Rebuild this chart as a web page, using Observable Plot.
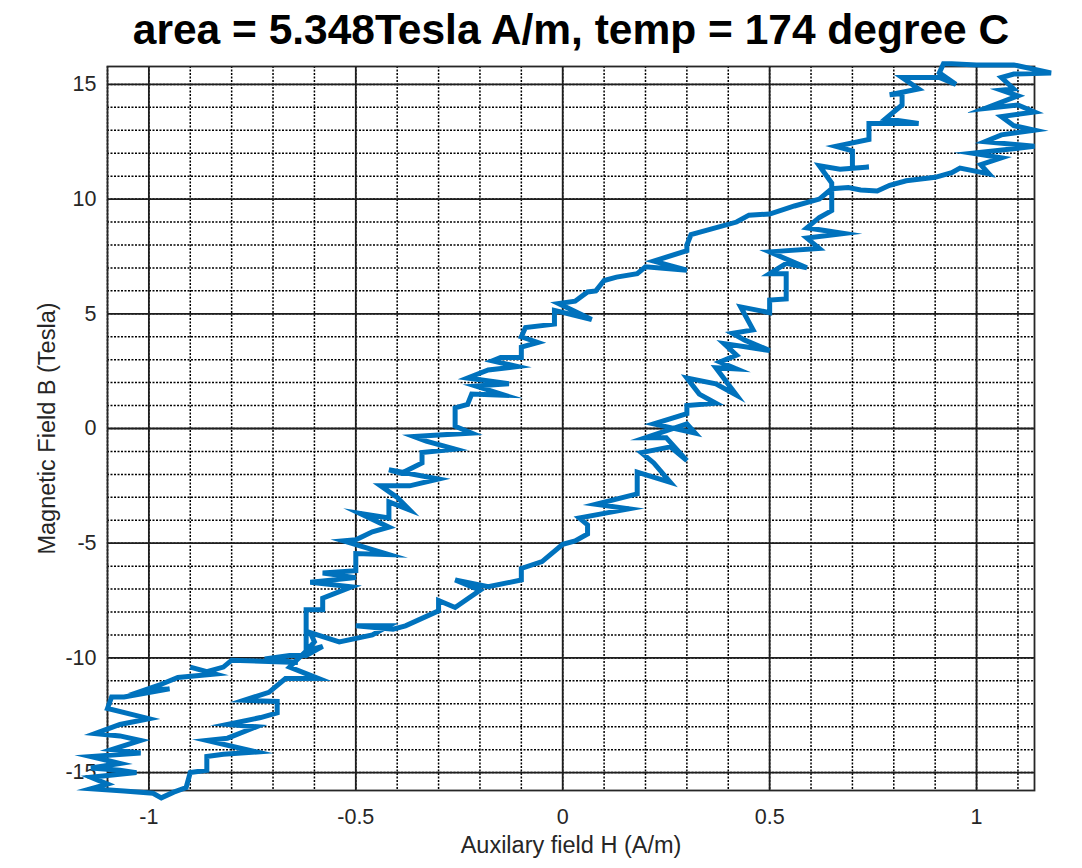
<!DOCTYPE html>
<html><head><meta charset="utf-8">
<script src="https://cdn.jsdelivr.net/npm/d3@7"></script>
<script src="https://cdn.jsdelivr.net/npm/@observablehq/plot@0.6"></script>
<style>
body{margin:0;background:#fff;width:1082px;height:868px;overflow:hidden;font-family:"Liberation Sans",Arial,Helvetica,sans-serif}
#title{box-sizing:border-box;height:58px;padding:2px 0 0 60px;line-height:56px;font-size:42.5px;font-weight:bold;text-align:center;color:#000;white-space:nowrap}
</style></head><body>
<div id="title">area = 5.348Tesla A/m, temp = 174 degree C</div>
<div id="chart"></div>
<script>
// Auxiliary field H (A/m) and magnetic field B (Tesla), traced in drawing order
const H = [
 0.94,1.00,1.09,1.18,1.09,1.06,1.09,1.06,1.10,1.02,1.10,1.14,1.06,1.09,1.14,1.06,1.02,1.14,0.99,1.06,1.01,1.03,0.96,0.94,0.90,0.83,0.79,0.76,0.72,0.69,0.65,
 0.62,0.56,0.50,0.45,0.42,0.36,0.31,0.30,0.30,0.22,0.30,0.20,0.18,0.13,0.10,0.08,0.06,0.03,-0.01,0.07,-0.02,-0.02,-0.09,-0.10,-0.06,-0.10,-0.10,-0.15,-0.17,-0.11,-0.18,-0.23,-0.13,-0.21,-0.14,-0.22,-0.23,-0.26,-0.26,-0.22,-0.32,-0.36,-0.33,-0.26,-0.34,-0.34,-0.39,-0.42,-0.30,-0.37,-0.44,-0.40,-0.37,-0.42,-0.42,-0.49,-0.42,-0.46,-0.50,-0.53,-0.42,-0.50,-0.50,-0.58,-0.50,-0.61,-0.51,-0.58,-0.58,-0.62,-0.62,-0.62,-0.58,-0.62,
 -0.66,-0.72,-0.64,-0.80,-0.82,-0.86,-0.90,-0.84,-0.93,-0.97,-1.01,-0.95,-1.06,-1.09,-1.10,-1.00,-1.07,-1.13,-1.07,-1.02,-1.09,-1.02,-1.14,-1.07,-1.14,-1.07,-1.03,-1.14,-1.10,-1.14,-1.06,-0.99,-0.97,-0.94,-0.91,-0.90,-0.86,-0.86,-0.82,-0.74,-0.86,-0.81,-0.74,-0.81,-0.73,-0.69,-0.69,-0.77,-0.71,-0.67,-0.59,-0.66,-0.62,-0.60,
 -0.61,-0.54,-0.46,-0.42,-0.50,-0.41,-0.38,-0.30,-0.30,-0.26,-0.20,-0.26,-0.18,-0.10,-0.10,-0.05,0.00,0.03,0.06,0.06,0.04,0.10,0.16,0.08,0.18,0.18,0.26,0.22,0.19,0.26,0.30,0.25,0.20,0.30,0.32,0.22,0.30,0.30,0.37,0.33,0.30,0.37,0.42,0.37,0.42,0.38,0.42,0.39,0.50,0.44,0.41,0.46,0.43,0.50,0.50,0.54,0.54,0.54,0.50,0.54,0.59,0.50,0.62,0.59,0.68,0.59,0.62,0.65,0.65,
 0.65,0.62,0.67,0.74,0.70,0.70,0.66,0.74,0.74,0.86,0.78,0.82,0.82,0.79,0.86,0.82,0.91,0.95,0.91,0.92,0.94
];
const B = [
 15.9,15.85,15.85,15.5,15.45,15.3,14.8,14.75,14.5,13.95,14.1,13.8,13.6,13.2,13.0,12.8,12.5,12.3,12.0,11.8,11.5,11.1,11.35,11.15,10.95,10.8,10.6,10.35,10.4,10.5,10.45,
 10.0,9.7,9.35,9.3,9.0,8.7,8.45,8.0,7.75,7.3,6.9,7.05,6.75,6.6,6.45,6.0,5.95,5.55,5.45,4.75,5.15,4.55,4.4,4.0,3.75,3.55,3.1,3.1,2.95,2.7,2.55,2.2,1.95,1.85,1.45,1.5,1.05,0.9,0.1,-0.2,-0.3,-0.35,-0.55,-0.9,-1.05,-1.5,-1.95,-1.8,-2.2,-2.5,-2.5,-3.0,-3.55,-3.2,-3.9,-3.7,-4.3,-4.5,-4.85,-4.9,-5.5,-5.45,-6.2,-6.3,-6.5,-6.7,-6.9,-7.4,-7.9,-7.9,-8.5,-9.7,-9.5,-9.9,
 -9.9,-10.05,-10.2,-10.1,-10.4,-10.6,-10.4,-10.7,-10.85,-11.15,-11.4,-11.35,-11.7,-11.7,-12.2,-12.65,-12.9,-13.3,-13.4,-13.6,-14.0,-14.15,-14.3,-14.6,-14.8,-14.9,-15.0,-15.2,-15.5,-15.7,-15.8,-15.9,-16.1,-15.85,-15.65,-15.0,-14.9,-14.3,-14.2,-14.1,-13.6,-13.5,-13.0,-12.9,-12.6,-12.4,-11.9,-11.85,-11.5,-10.9,-10.9,-10.4,-9.7,-9.3,
 -8.9,-9.3,-9.0,-8.6,-8.6,-8.75,-8.6,-7.95,-7.5,-7.8,-7.05,-6.6,-6.9,-6.6,-6.1,-5.8,-5.05,-4.9,-4.6,-4.2,-3.9,-3.7,-3.5,-3.3,-2.85,-1.9,-2.35,-1.5,-1.05,-0.8,-1.4,-0.4,-0.4,0.2,-0.2,0.2,0.65,1.0,1.1,1.5,2.2,1.95,1.45,2.65,2.6,2.9,3.2,3.7,3.4,3.85,4.15,4.3,5.3,5.05,5.6,5.65,6.45,6.75,6.75,7.2,7.0,7.7,7.85,8.3,8.5,8.75,9.2,9.5,9.9,
 10.7,11.45,11.3,11.4,11.35,12.1,12.3,12.6,13.3,13.3,13.5,14.1,14.6,14.55,14.8,15.3,15.3,15.0,15.5,15.9,15.9
];
const xTicks = [-1, -0.5, 0, 0.5, 1];
const yTicks = [-15, -10, -5, 0, 5, 10, 15];
const xMinor = [-1.1,-1,-0.9,-0.8,-0.7,-0.6,-0.5,-0.4,-0.3,-0.2,-0.1,0,0.1,0.2,0.3,0.4,0.5,0.6,0.7,0.8,0.9,1,1.1];
const yMinor = [-15,-14,-13,-12,-11,-10,-9,-8,-7,-6,-5,-4,-3,-2,-1,0,1,2,3,4,5,6,7,8,9,10,11,12,13,14,15];
const xLabel = "Auxilary field H (A/m)";
const yLabel = "Magnetic Field B (Tesla)";

const data = H.map((h, i) => ({H: h, B: B[i]}));
const font = '"Liberation Sans", Arial, Helvetica, sans-serif';

const chart = Plot.plot({
  width: 1082, height: 810,
  marginLeft: 107, marginRight: 48, marginTop: 8, marginBottom: 78,
  style: {fontFamily: font, fontSize: "21px", color: "#262626", background: "transparent", overflow: "visible"},
  x: {domain: [-1.1, 1.14]},
  y: {domain: [-15.78, 15.78]},
  marks: [
    Plot.ruleX(xMinor, {stroke: "#000", strokeWidth: 1.5, strokeDasharray: "2,1.5"}),
    Plot.ruleY(yMinor, {stroke: "#000", strokeWidth: 1.5, strokeDasharray: "2,1.5"}),
    Plot.ruleX(xTicks, {stroke: "#1e1e1e", strokeWidth: 1.8}),
    Plot.ruleY(yTicks, {stroke: "#1e1e1e", strokeWidth: 1.8}),
    Plot.frame({stroke: "#262626", strokeWidth: 1.8}),
    Plot.axisX(xTicks, {tickSize: 0, tickPadding: 18, tickFormat: d => String(d), fontSize: 21.5, label: null}),
    Plot.axisY(yTicks, {tickSize: 0, tickPadding: 11, tickFormat: d => String(d), fontSize: 21.5, label: null}),
    Plot.text([xLabel], {text: d => d, frameAnchor: "bottom", dy: 55, fontSize: 23.5, fill: "#262626", textAnchor: "middle", lineAnchor: "middle"}),
    Plot.text([yLabel], {text: d => d, frameAnchor: "left", dx: -60, rotate: -90, fontSize: 23.5, fill: "#262626", textAnchor: "middle", lineAnchor: "middle"}),
    Plot.line(data, {x: "H", y: "B", stroke: "#0072BD", strokeWidth: 5,
      strokeLinejoin: "miter", strokeMiterlimit: 8})
  ]
});
document.getElementById("chart").appendChild(chart);
</script>
</body></html>
